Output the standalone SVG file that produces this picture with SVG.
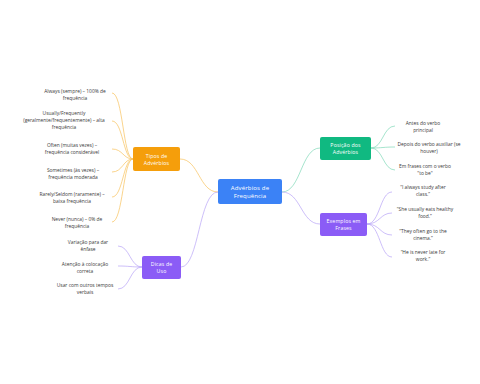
<svg xmlns="http://www.w3.org/2000/svg" width="480" height="384" viewBox="0 0 480 384">
<style>
.bg{fill:#ffffff}
.node text{font-family:"Open Sans","Liberation Sans",sans-serif;font-size:5.2px;fill:#ffffff;text-anchor:middle;letter-spacing:0.15px}
.leaf text{font-family:"Open Sans","Liberation Sans",sans-serif;font-size:4.9px;fill:#3a3a3a;text-anchor:middle}
.c{fill:none;stroke-width:0.7}
.or{stroke:#f8c25c}
.gr{stroke:#7fd9b8}
.pu{stroke:#b7a3f7}
</style>
<rect class="bg" x="0" y="0" width="480" height="384"/>
<g id="connectors">
  <path class="c or" d="M218 192 C199 192,199 159,180 159"/>
  <path class="c pu" d="M218 192 C199 192,199 267,181 267"/>
  <path class="c gr" d="M282 192 C301 192,301 148,320 148"/>
  <path class="c pu" d="M282 192 C301 192,301 224,320 224"/>
  <path class="c or" d="M133 159 C123 159,123 93,112 93"/>
  <path class="c or" d="M133 159 C123 159,123 121,112 121"/>
  <path class="c or" d="M133 159 C123 159,123 149,112 149"/>
  <path class="c or" d="M133 159 C123 159,123 172,112 172"/>
  <path class="c or" d="M133 159 C123 159,123 197,112 197"/>
  <path class="c or" d="M133 159 C123 159,123 222,112 222"/>
  <path class="c pu" d="M142 267 C130 267,130 246,118 246"/>
  <path class="c pu" d="M142 267 C130 267,130 266,118 266"/>
  <path class="c pu" d="M142 267 C130 267,130 289,118 289"/>
  <path class="c gr" d="M371 148 C383 148,383 126,395 126"/>
  <path class="c gr" d="M371 148 C383 148,383 147,395 147"/>
  <path class="c gr" d="M371 148 C383 148,383 170,395 170"/>
  <path class="c pu" d="M367 224 C380 224,380 192,392 192"/>
  <path class="c pu" d="M367 224 C380 224,380 213,392 213"/>
  <path class="c pu" d="M367 224 C380 224,380 235,392 235"/>
  <path class="c pu" d="M367 224 C380 224,380 257,392 257"/>
</g>
<g id="central" class="node">
  <rect x="218" y="179" width="64" height="25" rx="2" fill="#3b82f6"/>
  <text x="250" y="189.5" style="font-size:6px">Advérbios de</text>
  <text x="250" y="198" style="font-size:6px">Frequência</text>
</g>
<g id="tipos" class="node">
  <rect x="133" y="147" width="47" height="24" rx="2" fill="#f59e0b"/>
  <text x="156.5" y="157.5">Tipos de</text>
  <text x="156.5" y="164.5">Advérbios</text>
</g>
<g id="posicao" class="node">
  <rect x="320" y="137" width="51" height="23" rx="2" fill="#10b981"/>
  <text x="345.5" y="147">Posição dos</text>
  <text x="345.5" y="154">Advérbios</text>
</g>
<g id="exemplos" class="node">
  <rect x="320" y="213" width="47" height="23" rx="2" fill="#8b5cf6"/>
  <text x="343.5" y="223">Exemplos em</text>
  <text x="343.5" y="230">Frases</text>
</g>
<g id="dicas" class="node">
  <rect x="142" y="256" width="39" height="23" rx="2" fill="#8b5cf6"/>
  <text x="161.5" y="266">Dicas de</text>
  <text x="161.5" y="273">Uso</text>
</g>
<g id="leaf-always" class="leaf">
  <text x="75" y="93">Always (sempre) – 100% de</text>
  <text x="75" y="100">frequência</text>
</g>
<g id="leaf-usually" class="leaf">
  <text x="64" y="115">Usually/Frequently</text>
  <text x="64" y="122">(geralmente/frequentemente) – alta</text>
  <text x="64" y="129">frequência</text>
</g>
<g id="leaf-often" class="leaf">
  <text x="72" y="147">Often (muitas vezes) –</text>
  <text x="72" y="154">frequência considerável</text>
</g>
<g id="leaf-sometimes" class="leaf">
  <text x="73" y="172">Sometimes (às vezes) –</text>
  <text x="73" y="179">frequência moderada</text>
</g>
<g id="leaf-rarely" class="leaf">
  <text x="72" y="196">Rarely/Seldom (raramente) –</text>
  <text x="72" y="203">baixa frequência</text>
</g>
<g id="leaf-never" class="leaf">
  <text x="77" y="221">Never (nunca) – 0% de</text>
  <text x="77" y="228">frequência</text>
</g>
<g id="leaf-variacao" class="leaf">
  <text x="88" y="244">Variação para dar</text>
  <text x="88" y="251">ênfase</text>
</g>
<g id="leaf-atencao" class="leaf">
  <text x="85" y="266">Atenção à colocação</text>
  <text x="85" y="273">correta</text>
</g>
<g id="leaf-usar" class="leaf">
  <text x="85" y="287">Usar com outros tempos</text>
  <text x="85" y="294">verbais</text>
</g>
<g id="leaf-antes" class="leaf">
  <text x="423" y="125">Antes do verbo</text>
  <text x="423" y="132">principal</text>
</g>
<g id="leaf-depois" class="leaf">
  <text x="429" y="146">Depois do verbo auxiliar (se</text>
  <text x="429" y="153">houver)</text>
</g>
<g id="leaf-emfrases" class="leaf">
  <text x="425" y="168">Em frases com o verbo</text>
  <text x="425" y="175">"to be"</text>
</g>
<g id="leaf-ex1" class="leaf">
  <text x="423" y="189">“I always study after</text>
  <text x="423" y="196">class.”</text>
</g>
<g id="leaf-ex2" class="leaf">
  <text x="425" y="211">“She usually eats healthy</text>
  <text x="425" y="218">food.”</text>
</g>
<g id="leaf-ex3" class="leaf">
  <text x="423" y="233">“They often go to the</text>
  <text x="423" y="240">cinema.”</text>
</g>
<g id="leaf-ex4" class="leaf">
  <text x="423" y="254">“He is never late for</text>
  <text x="423" y="261">work.”</text>
</g>
</svg>
